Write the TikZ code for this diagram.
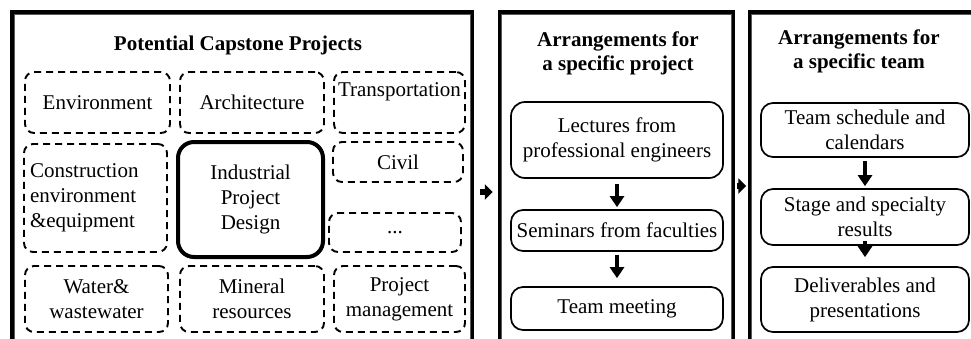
\documentclass[tikz,border=0pt]{standalone}
\usepackage{fontspec}
\setmainfont{Liberation Serif}
\usetikzlibrary{arrows.meta}

\begin{document}
\begin{tikzpicture}[x=1pt, y=-1pt,
  font=\fontsize{21}{25}\selectfont,
  panel/.style={draw, line width=3.5pt, minimum width=#1, minimum height=329.5pt, inner sep=0pt},
  innerline/.style={draw=black!65, line width=1.3pt},
  dashbox/.style={draw, dash pattern=on 7pt off 5pt, line width=1.9pt, rounded corners=9pt,
    align=center, inner sep=0pt},
  ipdbox/.style={draw, line width=4pt, rounded corners=16pt, align=center, inner sep=0pt},
  stepbox/.style={draw, line width=1.7pt, rounded corners=12pt, align=center, inner sep=0pt},
  heading/.style={font=\fontsize{21}{24}\selectfont\bfseries, align=center},
  flowarrow/.style={-{Triangle[length=11pt,width=14pt]}, line width=3.5pt},
  blockarrow/.style={-{Triangle[length=8pt,width=15pt]}, line width=6pt}]
\useasboundingbox (0,0) rectangle (971,338);
\clip (0,0) rectangle (971,338);

% Panels
\node[panel=460.5pt] (proj) at (242.25,176.75) {};
\node[panel=234pt] (spec) at (616.5,176.75) {};
\node[panel=250.5pt] (team) at (874.75,176.75) {};
\foreach \p in {proj,spec,team}
  \draw[innerline] ([shift={(4pt,-4pt)}]\p.north west) rectangle ([shift={(-4pt,4pt)}]\p.south east);

% Potential projects
\node[heading] (projtitle) at (238,45) {Potential Capstone Projects};
\node[dashbox, minimum width=145pt, minimum height=61pt] (env) at (97.5,102.5) {Environment};
\node[dashbox, minimum width=144pt, minimum height=61pt] (arch) at (252,102.5) {Architecture};
\node[dashbox, minimum width=131pt, minimum height=61pt] (trans) at (399.5,102.5) {Transportation\\[0pt]~};
\node[dashbox, minimum height=108pt, text width=131pt, align=left, inner xsep=6pt] (constr) at (95.5,198)
  {Construction\\environment\\\&equipment};
\node[ipdbox, minimum width=145pt, minimum height=115pt] (ipd) at (250.5,199.5) {Industrial\\Project\\Design};
\node[dashbox, minimum width=130pt, minimum height=40pt] (civil) at (398,162) {Civil};
\node[dashbox, minimum width=132pt, minimum height=39pt] (more) at (395,232.5) {...};
\node[dashbox, minimum width=143pt, minimum height=66pt] (water) at (96.5,299) {Water\&\\wastewater};
\node[dashbox, minimum width=144pt, minimum height=66pt] (mineral) at (252,299) {Mineral\\resources};
\node[dashbox, minimum width=131pt, minimum height=66pt] (pm) at (399.5,299) {Project\\management};

% Arrangements for a project
\node[heading] (spectitle) at (618,53.5) {Arrangements for\\a specific project};
\node[stepbox, minimum width=212pt, minimum height=76pt, rounded corners=14pt] (lect) at (617,140)
  {Lectures from\\professional engineers};
\node[stepbox, minimum width=212pt, minimum height=41pt] (sem) at (617,230.5) {Seminars from faculties};
\node[stepbox, minimum width=212pt, minimum height=43pt] (meet) at (617,308.5) {Team meeting};

% Arrangements for a team
\node[heading] (teamtitle) at (859,51) {Arrangements for\\a specific team};
\node[stepbox, minimum width=208pt, minimum height=54pt] (sched) at (865,130) {Team schedule and\\calendars};
\node[stepbox, minimum width=208pt, minimum height=56pt] (stage) at (865,217) {Stage and specialty\\results};
\node[stepbox, minimum width=208pt, minimum height=65pt] (deliv) at (865,299.5) {Deliverables and\\presentations};

% Flow inside panels
\draw[flowarrow, shorten <=5pt, shorten >=2pt] (lect) -- (sem);
\draw[flowarrow, shorten <=3pt, shorten >=8pt] (sem) -- (meet);
\draw[flowarrow, shorten <=3pt, shorten >=2pt] (sched) -- (stage);
\draw[flowarrow, shorten <=-5pt, shorten >=9pt] (stage) -- (deliv);

% Flow between panels
\draw[blockarrow, shorten <=6pt, shorten >=5pt] ([yshift=-15.25pt]proj.east) -- ([yshift=-15.25pt]proj.east -| spec.west);
\draw[blockarrow, shorten <=1.5pt, shorten >=1.5pt] (spec.east |- team.west) ++(0,9.25) -- ([yshift=-9.25pt]team.west);

\end{tikzpicture}
\end{document}
